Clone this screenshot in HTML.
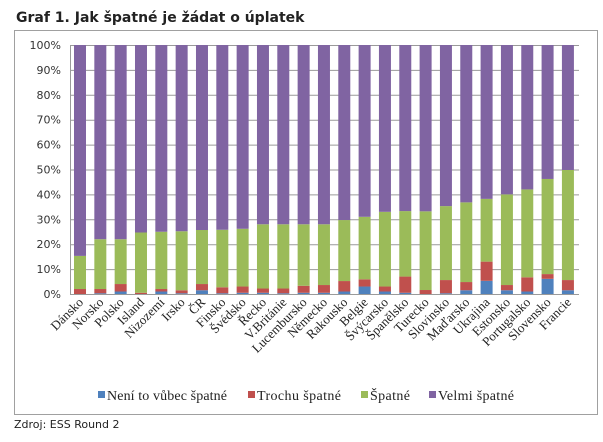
<!DOCTYPE html>
<html><head><meta charset="utf-8"><style>
body{margin:0;background:#fff;width:603px;height:442px;overflow:hidden}
svg{display:block}
</style></head><body>
<svg width="603" height="442" xmlns="http://www.w3.org/2000/svg">
<text x="16" y="22" font-family="DejaVu Sans, sans-serif" font-weight="bold" font-size="14" fill="#222">Graf 1. Jak špatné je žádat o úplatek</text>
<rect x="14.5" y="30.5" width="583" height="384" fill="#fff" stroke="#a0a0a0"/>
<g id="grid" stroke="#9a9a9a" stroke-width="1"></g>
<g id="bars"></g>
<g id="ylab" font-family="DejaVu Sans, sans-serif" font-size="11" fill="#333" text-anchor="end"></g>
<g id="xlab" font-family="Liberation Serif, serif" font-size="13" fill="#222" text-anchor="end"></g>
<g font-family="Liberation Serif, serif" font-size="14" fill="#222">
<rect x="98" y="391" width="7" height="7" fill="#4F81BD"/><text x="107" y="400" textLength="120">Není to vůbec špatné</text>
<rect x="248" y="391" width="7" height="7" fill="#C0504D"/><text x="257" y="400" textLength="84">Trochu špatné</text>
<rect x="361" y="391" width="7" height="7" fill="#9BBB59"/><text x="370" y="400" textLength="40">Špatné</text>
<rect x="429" y="391" width="7" height="7" fill="#8064A2"/><text x="438" y="400" textLength="76">Velmi špatné</text>
</g>
<text x="14" y="428" font-family="DejaVu Sans, sans-serif" font-size="11" fill="#222">Zdroj: ESS Round 2</text>
<script>
var names=["Dánsko","Norsko","Polsko","Island","Nizozemí","Irsko","ČR","Finsko","Švédsko","Řecko","V.Británie","Lucembursko","Německo","Rakousko","Belgie","Švýcarsko","Španělsko","Turecko","Slovinsko","Maďarsko","Ukrajina","Estonsko","Portugalsko","Slovensko","Francie"];
var b=[0,0.3,1,0,1,0.3,1.5,0.3,0.5,0.5,0.3,0.5,0.5,1,3,1,0.5,0,0.3,1.5,5.3,1.5,1,6.1,1.5];
var r=[2,2,4,0.5,2,1.5,4,2.7,3,2.2,2.2,3.3,3.6,5.2,5.9,3,7,1.6,5.6,4.8,13,3.6,6.7,8,5.6];
var g=[15.3,22,22,24.7,25,25.2,25.7,25.8,26.2,28,28,28,28,29.7,31,33,33.3,33.2,35.3,36.8,38.2,40,42,46.2,49.8];
var ns="http://www.w3.org/2000/svg";
function el(p,t,a,txt){var e=document.createElementNS(ns,t);for(var k in a)e.setAttribute(k,a[k]);if(txt)e.textContent=txt;document.getElementById(p).appendChild(e);}
var y0=294,s=2.49;
for(var i=0;i<=10;i++){var y=y0-i*10*s;el("grid","line",{x1:70,x2:579,y1:y.toFixed(1)-0+0.5,y2:y.toFixed(1)-0+0.5});el("ylab","text",{x:61,y:y+4},(i*10)+"%");}
el("grid","line",{x1:70.5,x2:70.5,y1:45,y2:294.5});
for(var i=0;i<25;i++){var x=74+i*20.33;
function seg(a,c,col){if(c>a)el("bars","rect",{x:x,width:12,y:y0-c*s,height:(c-a)*s,fill:col});}
seg(0,b[i],"#4F81BD");seg(b[i],r[i],"#C0504D");seg(Math.max(r[i],b[i]),g[i],"#9BBB59");seg(g[i],100,"#8064A2");
var cx=x+10,cy=303;el("xlab","text",{x:cx,y:cy,transform:"rotate(-45 "+cx+" "+cy+")"},names[i]);}
</script>
</svg>
</body></html>
